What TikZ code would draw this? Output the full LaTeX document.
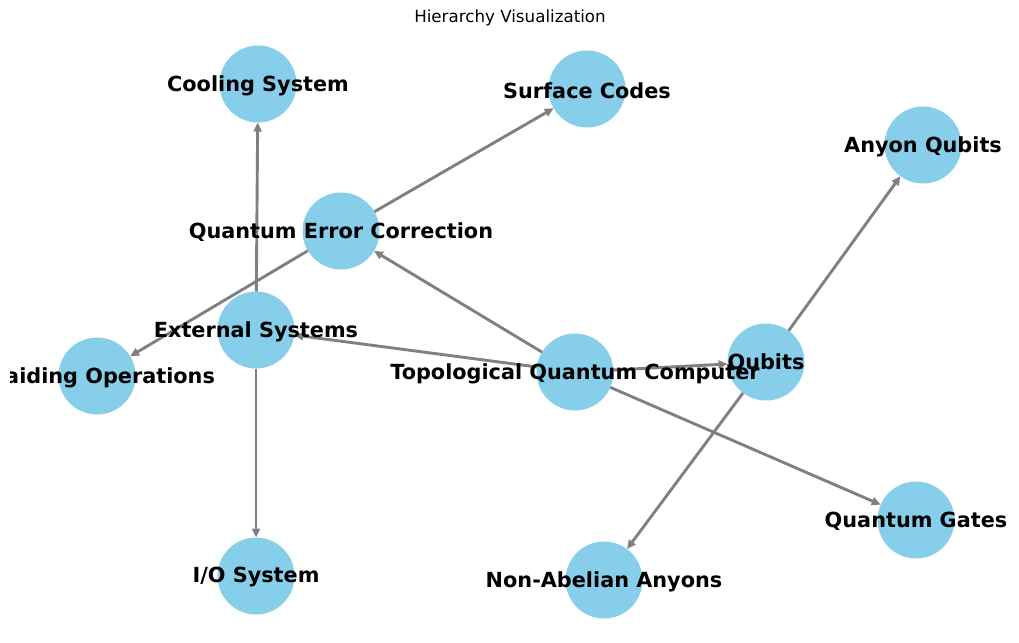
\documentclass[tikz,border=0pt]{standalone}
\usepackage{fontspec}
\setmainfont{DejaVu Sans}
\usetikzlibrary{arrows.meta,backgrounds}
\definecolor{skyb}{HTML}{87CEEB}
\definecolor{edgec}{HTML}{808080}
\tikzset{
  nd/.style={circle,fill=skyb,minimum size=77pt,inner sep=0pt,outer sep=0pt},
  lbl/.style={font=\bfseries\fontsize{20.8}{24}\selectfont,text=black,inner sep=0pt,yshift=-1.5pt},
  edge/.style={draw=edgec,line width=2.9pt,-{Triangle[length=9pt,width=8pt]}}
}
\begin{document}
\begin{tikzpicture}[x=1pt,y=-1pt]
\useasboundingbox (0,0) rectangle (1019,642);
\clip (0,0) rectangle (1019,642);
\node[font=\fontsize{16.7}{20}\selectfont] (title) at (510,18) {Hierarchy Visualization};
\node[nd] (cool) at (258,84) {};
\node[nd] (surf) at (587,89) {};
\node[nd] (anyq) at (923,145) {};
\node[nd] (qec) at (341,231) {};
\node[nd] (ext) at (256,330) {};
\node[nd] (braid) at (97,376) {};
\node[nd] (tqc) at (575,372) {};
\node[nd] (qub) at (766,362) {};
\node[nd] (gates) at (916,520) {};
\node[nd] (io) at (256,576) {};
\node[nd] (nab) at (604,580) {};
\begin{scope}[on background layer]
\draw[edge] (tqc) -- (qec);
\draw[edge] (tqc) -- (ext);
\draw[edge] (tqc) -- (qub);
\draw[edge] (tqc) -- (gates);
\draw[edge] (qec) -- (surf);
\draw[edge] (qec) -- (braid);
\draw[edge] (ext) -- (cool);
\draw[edge] (ext) -- (io);
\draw[edge] (qub) -- (anyq);
\draw[edge] (qub) -- (nab);
\end{scope}
\node[lbl] (tcool) at (cool) {Cooling System};
\node[lbl] (tsurf) at (surf) {Surface Codes};
\node[lbl] (tanyq) at (anyq) {Anyon Qubits};
\node[lbl] (tqec) at (qec) {Quantum Error Correction};
\node[lbl] (text) at (ext) {External Systems};
\begin{scope}
\clip (10,0) rectangle (1019,642);
\node[lbl] (tbraid) at (braid) {Braiding Operations};
\end{scope}
\node[lbl] (ttqc) at (tqc) {Topological Quantum Computer};
\node[lbl] (tqub) at (qub) {Qubits};
\node[lbl] (tgates) at (gates) {Quantum Gates};
\node[lbl] (tio) at (io) {I/O System};
\node[lbl] (tnab) at (nab) {Non-Abelian Anyons};
\end{tikzpicture}
\end{document}
